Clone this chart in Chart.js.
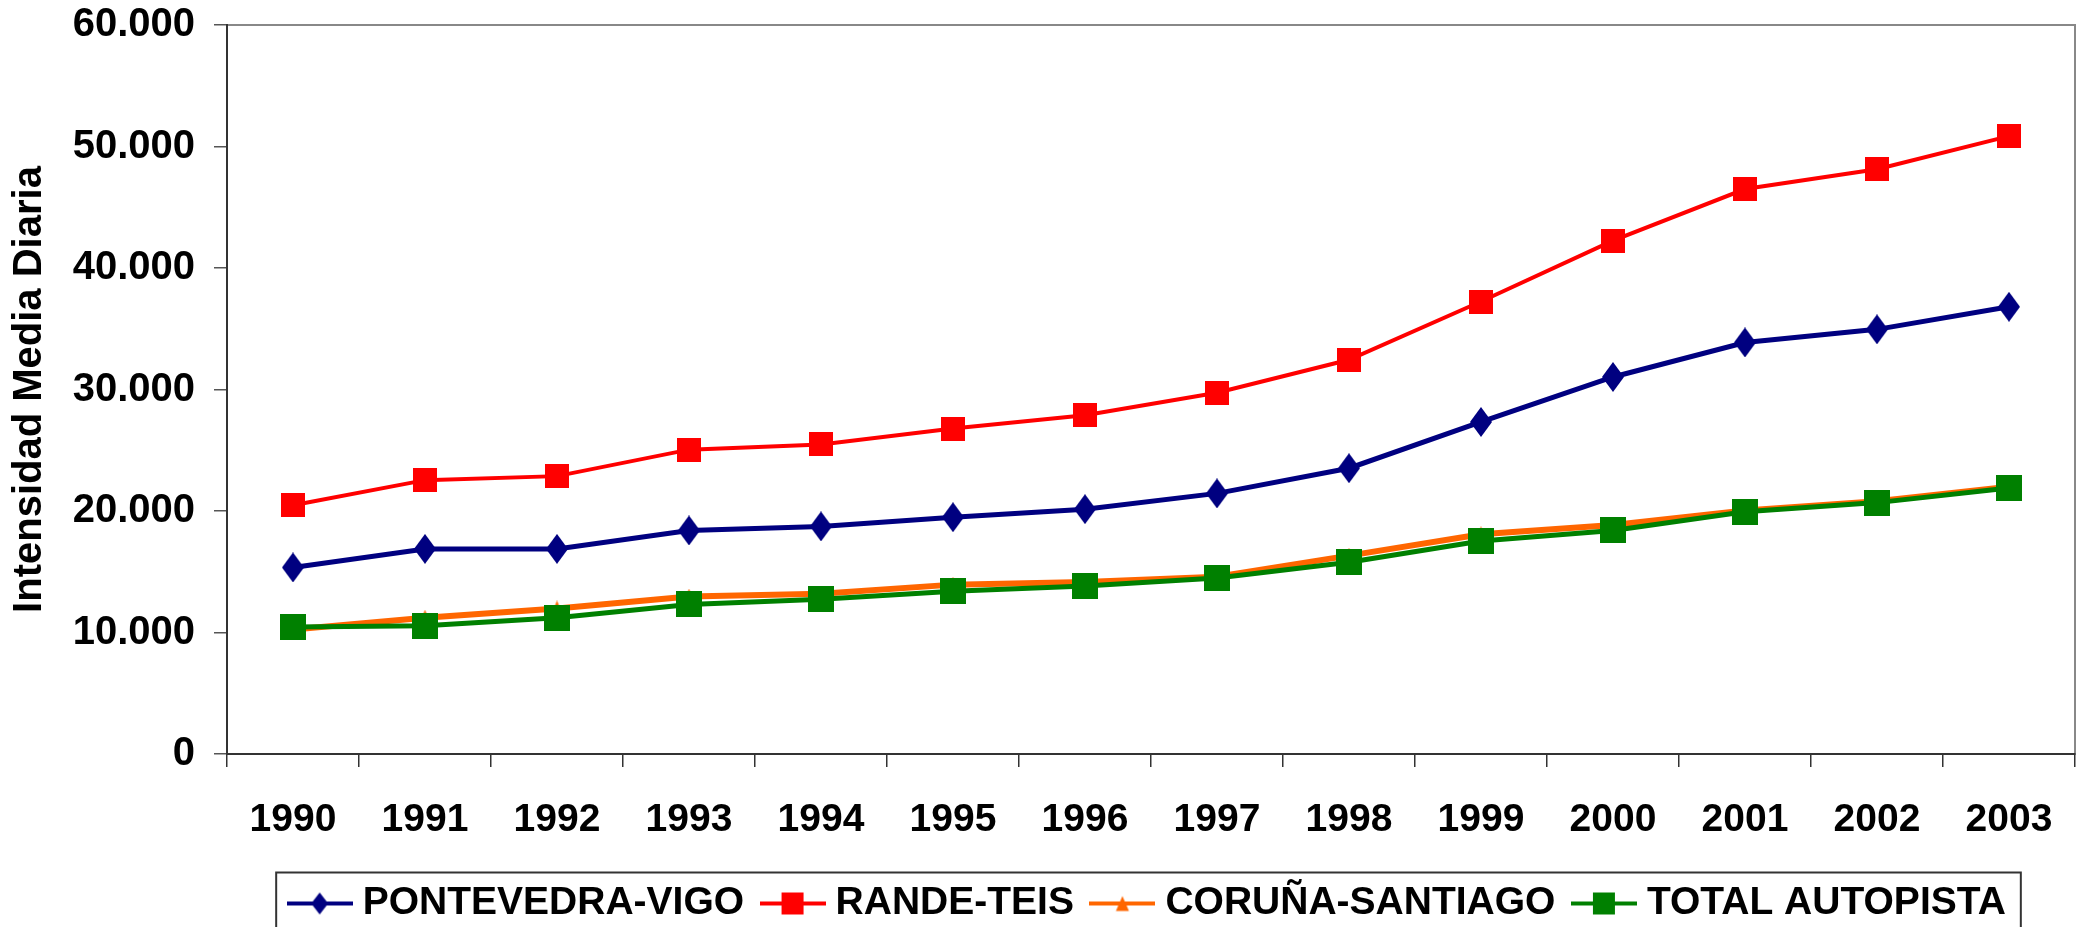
<!DOCTYPE html>
<html>
<head>
<meta charset="utf-8">
<script src="https://cdn.jsdelivr.net/npm/chart.js@4/dist/chart.umd.min.js"></script>
<style>
  body { margin: 0; background: #fff; overflow: hidden; }
  #wrap { width: 2076px; height: 927px; overflow: hidden; }
</style>
</head>
<body>
<div id="wrap"><canvas id="chart" width="2091" height="927"></canvas></div>
<script>
const years = ['1990', '1991', '1992', '1993', '1994', '1995', '1996', '1997', '1998', '1999', '2000', '2001', '2002', '2003'];
const pontevedraVigo = [15350, 16880, 16880, 18400, 18730, 19490, 20150, 21450, 23520, 27330, 31030, 33870, 34950, 36810];
const randeTeis = [20470, 22540, 22870, 25050, 25480, 26790, 27880, 29730, 32450, 37240, 42250, 46500, 48130, 50850];
const corunaSantiago = [10240, 11220, 11980, 12960, 13180, 13940, 14160, 14590, 16330, 18080, 18840, 20040, 20800, 22000];
const totalAutopista = [10450, 10560, 11220, 12310, 12740, 13390, 13830, 14480, 15790, 17530, 18400, 19930, 20690, 21890];
const seriesNames = ['PONTEVEDRA-VIGO', 'RANDE-TEIS', 'CORUÑA-SANTIAGO', 'TOTAL AUTOPISTA'];

const colors = ['#000080', '#ff0000', '#ff6600', '#008000'];

// marker shapes, excel style (tall diamond, squares, small triangle)
function shape(ctx, kind, cx, cy, w, h) {
  ctx.beginPath();
  if (kind === 'diamond') {
    ctx.moveTo(cx, cy - h / 2);
    ctx.lineTo(cx + w / 2, cy);
    ctx.lineTo(cx, cy + h / 2);
    ctx.lineTo(cx - w / 2, cy);
  } else if (kind === 'triangle') {
    ctx.moveTo(cx, cy - h / 2);
    ctx.lineTo(cx + w / 2, cy + h / 2);
    ctx.lineTo(cx - w / 2, cy + h / 2);
  } else {
    ctx.rect(cx - w / 2, cy - h / 2, w, h);
  }
  ctx.closePath();
  ctx.fill();
}

function marker(kind, color, w, h) {
  const c = document.createElement('canvas');
  c.width = w; c.height = h;
  const ctx = c.getContext('2d');
  ctx.fillStyle = color;
  shape(ctx, kind, w / 2, h / 2, w, h);
  return c;
}

function legendIcon(kind, color, lw, w, h) {
  const c = document.createElement('canvas');
  c.width = 66; c.height = 30;
  const ctx = c.getContext('2d');
  ctx.strokeStyle = color;
  ctx.lineWidth = lw;
  ctx.beginPath();
  ctx.moveTo(0, 15);
  ctx.lineTo(66, 15);
  ctx.stroke();
  ctx.fillStyle = color;
  shape(ctx, kind, 33, 15, w, h);
  return c;
}

const markers = [
  marker('diamond', colors[0], 22, 30),
  marker('square', colors[1], 24, 24),
  marker('triangle', colors[2], 13, 16),
  marker('square', colors[3], 26, 26)
];
const legendIcons = [
  legendIcon('diamond', colors[0], 4, 17, 22),
  legendIcon('square', colors[1], 4, 22, 22),
  legendIcon('triangle', colors[2], 4, 13, 15),
  legendIcon('square', colors[3], 4, 22, 22)
];

// gray frame of the plot area (axes drawn on top of it)
const plotFrame = {
  id: 'plotFrame',
  beforeDraw(chart) {
    const a = chart.chartArea;
    const ctx = chart.ctx;
    ctx.save();
    ctx.strokeStyle = '#888';
    ctx.lineWidth = 2;
    ctx.strokeRect(a.left, a.top, a.right - a.left, a.bottom - a.top);
    ctx.restore();
  }
};

// box around the legend
const legendFrame = {
  id: 'legendFrame',
  afterDraw(chart) {
    const hb = chart.legend.legendHitBoxes;
    if (!hb || !hb.length) return;
    const first = hb[0], last = hb[hb.length - 1];
    const cy = first.top + first.height / 2;
    const ctx = chart.ctx;
    ctx.save();
    ctx.strokeStyle = '#333';
    ctx.lineWidth = 2;
    const x0 = first.left - 20;
    const x1 = last.left + last.width + 15;
    ctx.strokeRect(x0, cy - 31, x1 - x0, chart.height + 20 - (cy - 31));
    ctx.restore();
  }
};

function fmt(v) {
  return String(v).replace(/\B(?=(\d{3})+(?!\d))/g, '.');
}

Chart.defaults.font.family = '"Liberation Sans", Arial, sans-serif';
Chart.defaults.color = '#000';

const lineData = [pontevedraVigo, randeTeis, corunaSantiago, totalAutopista];
const widths = [5, 4, 6, 5];
const orders = [3, 2, 1, 0];

const datasets = lineData.map((d, i) => ({
  label: seriesNames[i],
  data: d,
  borderColor: colors[i],
  backgroundColor: colors[i],
  borderWidth: widths[i],
  pointStyle: markers[i],
  pointRadius: 10,
  pointHoverRadius: 10,
  tension: 0,
  fill: false,
  order: orders[i]
}));

new Chart(document.getElementById('chart'), {
  type: 'line',
  data: { labels: years, datasets: datasets },
  options: {
    responsive: false,
    animation: false,
    layout: { padding: { top: 25, right: 1, left: 0, bottom: -6 } },
    plugins: {
      tooltip: { enabled: false },
      legend: {
        position: 'bottom',
        fullSize: false,
        labels: {
          usePointStyle: true,
          pointStyleWidth: 47,
          boxHeight: 20,
          padding: 25,
          color: '#000',
          font: { size: 39, weight: 'bold' },
          generateLabels: (chart) => {
            const items = Chart.defaults.plugins.legend.labels.generateLabels(chart);
            items.forEach((it) => { it.pointStyle = legendIcons[it.datasetIndex]; });
            items.sort((a, b) => a.datasetIndex - b.datasetIndex);
            return items;
          }
        }
      }
    },
    scales: {
      x: {
        offset: true,
        grid: { offset: true, drawOnChartArea: false, tickLength: 13, color: '#333', lineWidth: 1.5 },
        border: { color: '#333', width: 2 },
        ticks: { padding: 30, maxRotation: 0, color: '#000', font: { size: 39, weight: 'bold' } },
        afterFit: (scale) => {
          scale.height = 105;
          scale.paddingLeft = 0;
          scale.paddingRight = 0;
        }
      },
      y: {
        min: 0,
        max: 60000,
        grid: { drawOnChartArea: false, tickLength: 13, color: '#555', lineWidth: 1.5 },
        border: { color: '#333', width: 2 },
        ticks: { stepSize: 10000, padding: 19, color: '#000', font: { size: 40, weight: 'bold' }, callback: (v) => fmt(v) },
        title: {
          display: true,
          text: 'Intensidad Media Diaria',
          color: '#000',
          padding: { top: 6, bottom: 0 },
          font: { size: 40, weight: 'bold' }
        },
        afterFit: (scale) => {
          scale.width = 227;
          scale.paddingTop = 0;
          scale.paddingBottom = 0;
        }
      }
    }
  },
  plugins: [plotFrame, legendFrame]
});
</script>
</body>
</html>
